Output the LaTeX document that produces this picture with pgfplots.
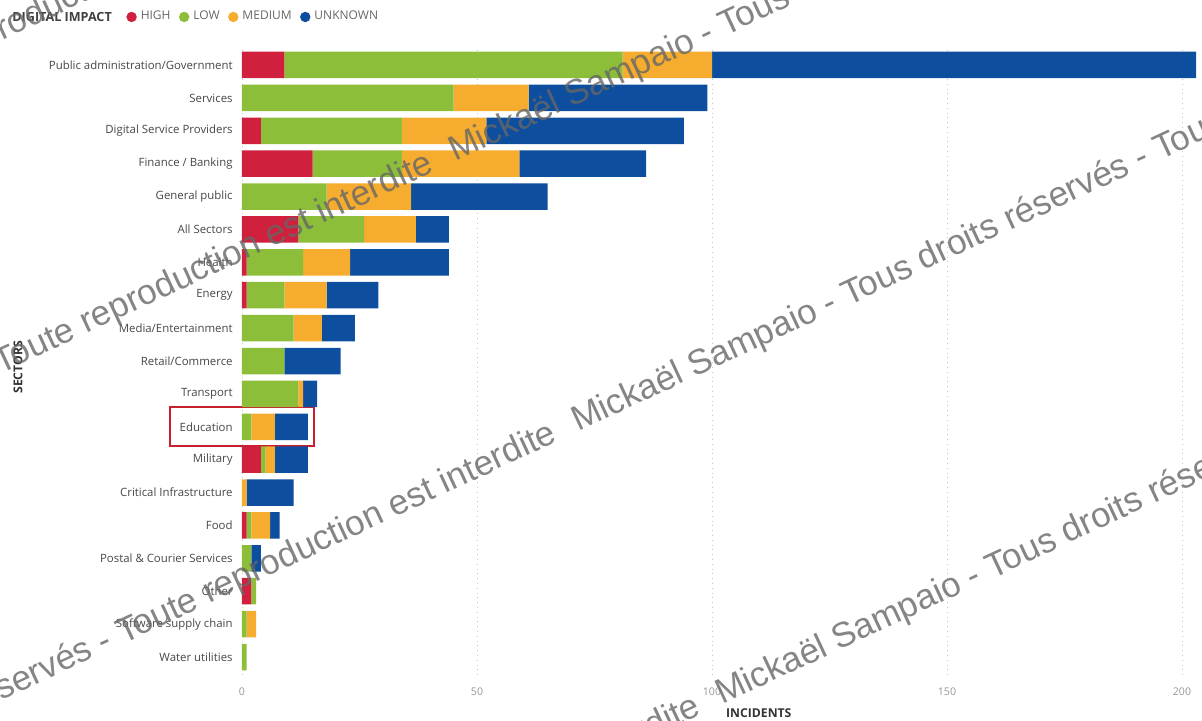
\documentclass[border=0pt]{standalone}
\usepackage{fontspec}
\setmainfont{Open Sans}
\newfontfamily\wmfont{Liberation Sans}
\usepackage{pgfplots}
\usepackage{pgfplotstable}
\pgfplotsset{compat=1.18}
\definecolor{cHigh}{RGB}{208,32,62}
\definecolor{cLow}{RGB}{141,190,58}
\definecolor{cMed}{RGB}{246,172,46}
\definecolor{cUnk}{RGB}{13,78,158}
\definecolor{lblgray}{RGB}{70,70,70}
\definecolor{tickgray}{RGB}{150,150,150}
\definecolor{boxred}{RGB}{200,32,47}

\pgfplotstableread{
idx H L M U
18 9 72 19 103
17 0 45 16 38
16 4 30 18 42
15 15 19 25 27
14 0 18 18 29
13 12 14 11 7
12 1 12 10 21
11 1 8 9 11
10 0 11 6 7
9 0 9 0 12
8 0 12 1 3
7 0 2 5 7
6 4 1 2 7
5 0 0 1 10
4 1 1 4 2
3 0 2 0 2
2 2 1 0 0
1 0 1 2 0
0 0 1 0 0
}\datatable

\begin{document}
\begin{tikzpicture}
\path[use as bounding box] (-121pt,-22.5pt) rectangle (480pt,337.5pt);
\begin{axis}[
  at={(0pt,0pt)}, anchor=south west,
  scale only axis, width=479.4pt, height=314pt,
  xbar stacked, bar width=13.25pt,
  xmin=0, xmax=204, ymin=-0.547, ymax=18.547,
  clip=false,
  axis line style={draw=none},
  major tick length=0pt,
  xtick={0,50,100,150,200},
  ytick={0,...,18},
  yticklabels={Water utilities, Software supply chain, Other, Postal \& Courier Services, Food, Critical Infrastructure, Military, Education, Transport, Retail/Commerce, Media/Entertainment, Energy, Health, All Sectors, General public, Finance / Banking, Digital Service Providers, Services, Public administration/Government},
  /pgf/number format/assume math mode=true,
  yticklabel style={font=\fontsize{5.7pt}{6.5pt}\selectfont, text=lblgray, inner sep=0pt, xshift=-4.5pt},
  xticklabel style={font=\fontsize{5.3pt}{6pt}\selectfont, text=tickgray, inner sep=0pt, yshift=-6pt},
  xmajorgrids,
  grid style={color=gray!45, line width=0.4pt, dash pattern=on 0.4pt off 2pt},
  xlabel={INCIDENTS},
  xlabel style={font=\bfseries\fontsize{6.1pt}{7pt}\selectfont, text=black!80, at={(axis description cs:0.539,-0.0605)}, anchor=center},
  ylabel={SECTORS},
  ylabel style={font=\bfseries\fontsize{6.1pt}{7pt}\selectfont, text=black!80, at={(axis description cs:-0.2336,0.49)}, anchor=center, rotate=0},
  legend style={at={(axis description cs:-0.121,1.0478)}, anchor=west, draw=none, fill=none,
    legend columns=-1, font=\fontsize{6pt}{7pt}\selectfont, text=black!60, inner sep=0pt,
    /tikz/every even column/.append style={column sep=2.2pt}},
  legend image code/.code={\fill[#1,draw=none] (1.5pt,0pt) circle (2.6pt);},
]
\addplot[fill=cHigh, draw=none] table[x=H, y=idx] {\datatable};
\addplot[fill=cLow, draw=none] table[x=L, y=idx] {\datatable};
\addplot[fill=cMed, draw=none] table[x=M, y=idx] {\datatable};
\addplot[fill=cUnk, draw=none] table[x=U, y=idx] {\datatable};
\legend{HIGH, LOW, MEDIUM, UNKNOWN}
\draw[boxred, line width=1pt] ([xshift=-36pt]axis cs:0,6.41) rectangle (axis cs:15.3,7.59);
\end{axis}
\node[anchor=west, inner sep=0pt, font=\bfseries\fontsize{6.3pt}{7pt}\selectfont, text=black!75] at (-115pt,329pt) {DIGITAL IMPACT};
% watermark
\begin{scope}[every node/.style={rotate=25, inner sep=0pt, text=black!60, opacity=0.8, font=\wmfont\fontsize{17.5pt}{20pt}\selectfont}]
\foreach \px/\py in {106.5/256.5, 168/121.5, 240/-15, 41.5/392.5} {
  \node[anchor=base west] at (\px pt,\py pt) {Mickaël Sampaio - Tous droits réservés - Toute reproduction};
  \node[anchor=base east] at (\px pt,\py pt) {Tous droits réservés - Toute reproduction est interdite\kern0.6em};
}
\end{scope}
\end{tikzpicture}
\end{document}
